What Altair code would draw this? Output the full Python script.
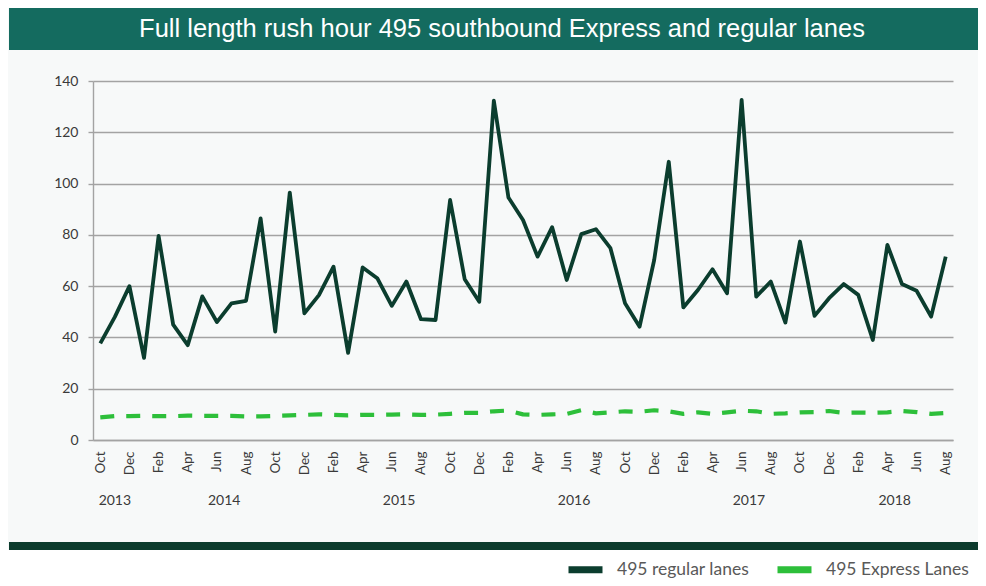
import altair as alt
import pandas as pd

# ---------------- data ----------------
month_names = ["Jan", "Feb", "Mar", "Apr", "May", "Jun",
               "Jul", "Aug", "Sep", "Oct", "Nov", "Dec"]
# index 0 = Oct 2013 ... index 58 = Aug 2018
month_idx = list(range(59))

regular_lanes = [37.7, 48, 60, 32, 79.6, 45, 37, 56, 46, 53.3,
                 54.3, 86.4, 42.3, 96.5, 49.4, 56.5, 67.6, 34, 67.3, 63.1,
                 52.3, 61.8, 47.1, 46.8, 93.6, 62.7, 53.9, 132.3, 94.6, 85.8,
                 71.5, 83, 62.4, 80.3, 82.2, 74.8, 53.3, 44.2, 70.2, 108.5,
                 51.7, 58.5, 66.6, 57.2, 132.6, 55.9, 61.8, 45.8, 77.4, 48.4,
                 55.3, 60.8, 56.6, 39, 76.1, 60.8, 58.2, 48.1, 71.5]

express_lanes = [8.8, 9.3, 9.3, 9.4, 9.3, 9.3, 9.5, 9.4, 9.4, 9.4,
                 9.2, 9.2, 9.4, 9.6, 9.8, 10.0, 9.8, 9.6, 9.8, 9.8,
                 9.9, 10.0, 9.8, 9.9, 10.2, 10.6, 10.6, 11.2, 11.5, 10.0,
                 9.8, 10.0, 10.2, 11.6, 10.4, 10.8, 11.2, 11.0, 11.6, 11.2,
                 10.2, 10.8, 10.2, 10.8, 11.4, 11.2, 10.2, 10.4, 10.8, 10.9,
                 11.3, 10.6, 10.7, 10.6, 10.8, 11.3, 10.9, 10.2, 10.5]

series_names = ["495 regular lanes", "495 Express Lanes"]
series_colors = ["#0b3d2e", "#2dbf3a"]

years = ["2013", "2014", "2015", "2016", "2017", "2018"]
year_centers = [1, 8.5, 20.5, 32.5, 44.5, 54.5]

y_ticks = [0, 20, 40, 60, 80, 100, 120, 140]
x_ticks = list(range(0, 59, 2))

title_text = "Full length rush hour 495 southbound Express and regular lanes"

# ---------------- tables ----------------
df = pd.DataFrame({"idx": month_idx,
                   series_names[0]: regular_lanes,
                   series_names[1]: express_lanes})
year_df = pd.DataFrame({"idx": year_centers, "year": years})
one = pd.DataFrame({"a": [0]})

label_expr = "[" + ",".join("'" + m + "'" for m in month_names) + "][(datum.value + 9) % 12]"

FONT = "Lato"
GRID = "#a3a3a3"

x_scale = alt.Scale(domain=[-0.5, 58.5], nice=False, zero=False)
x_axis = alt.Axis(values=x_ticks, labelExpr=label_expr, title=None, grid=False,
                  ticks=False, tickSize=0, labelAngle=-90, labelPadding=11,
                  labelFont=FONT, labelFontSize=13.5, labelColor="#3a3a3a",
                  labelOverlap=False, domainColor=GRID, domainWidth=1.4)
y_scale = alt.Scale(domain=[0, 140], nice=False)
y_axis = alt.Axis(values=y_ticks, title=None, grid=True,
                  gridColor=GRID, gridWidth=1.4,
                  domainColor=GRID, domainWidth=1.4,
                  tickColor=GRID, tickSize=5, tickWidth=1.4,
                  labelFont=FONT, labelFontSize=14,
                  labelColor="#3a3a3a", labelPadding=10)
color_scale = alt.Scale(domain=series_names, range=series_colors)
legend = alt.Legend(orient="none", legendX=472, legendY=468,
                    direction="horizontal", title=None,
                    symbolType="stroke", symbolSize=1156,
                    symbolStrokeWidth=7, symbolDash=[1, 0],
                    labelFont=FONT, labelFontSize=17.5, labelColor="#595959",
                    labelOffset=11, columnPadding=13, padding=0)

# ---------------- decorations ----------------
bottom_white = alt.Chart(one).mark_rect(color="white").encode(
    x=alt.value(-86), x2=alt.value(890), y=alt.value(469), y2=alt.value(500))

dark_bar = alt.Chart(one).mark_rect(color="#0c3b2d").encode(
    x=alt.value(-84), x2=alt.value(890), y=alt.value(461), y2=alt.value(469))

title_bar = alt.Chart(one).mark_rect(color="#146b5f").encode(
    x=alt.value(-84), x2=alt.value(890), y=alt.value(-76), y2=alt.value(-31))

title = alt.Chart(one).mark_text(
    font="Liberation Sans", fontSize=25.5, color="white",
    align="center", baseline="middle").encode(
    x=alt.value(409), y=alt.value(-52), text=alt.value(title_text))

# ---------------- lines ----------------
base = alt.Chart(df).transform_fold(series_names, as_=["series", "value"])

regular_line = base.transform_filter(
    alt.datum.series == series_names[0]
).mark_line(strokeWidth=3.8, strokeJoin="round").encode(
    x=alt.X("idx:Q", scale=x_scale, axis=x_axis),
    y=alt.Y("value:Q", scale=y_scale, axis=y_axis),
    color=alt.Color("series:N", scale=color_scale, legend=legend),
    order=alt.Order("idx:Q"),
)

express_line = base.transform_filter(
    alt.datum.series == series_names[1]
).mark_line(strokeWidth=4.2, strokeDash=[14, 12], strokeJoin="round").encode(
    x=alt.X("idx:Q", scale=x_scale, axis=x_axis),
    y=alt.Y("value:Q", scale=y_scale, axis=y_axis),
    color=alt.Color("series:N", scale=color_scale, legend=legend),
    order=alt.Order("idx:Q"),
)

year_labels = alt.Chart(year_df).mark_text(
    font=FONT, fontSize=14, color="#3a3a3a", baseline="middle").encode(
    x=alt.X("idx:Q", scale=x_scale, axis=x_axis),
    y=alt.value(420),
    text="year:N")

chart = alt.layer(
    bottom_white, dark_bar, title_bar, title,
    express_line, regular_line, year_labels
).properties(
    width=860, height=359,
    autosize=alt.AutoSizeParams(type="none"),
    padding={"left": 85, "top": 73, "right": 25, "bottom": 138},
    background="#f7f9f9",
).configure_view(stroke=None)

chart.save("out.html", embed_options={"renderer": "svg", "actions": False})
